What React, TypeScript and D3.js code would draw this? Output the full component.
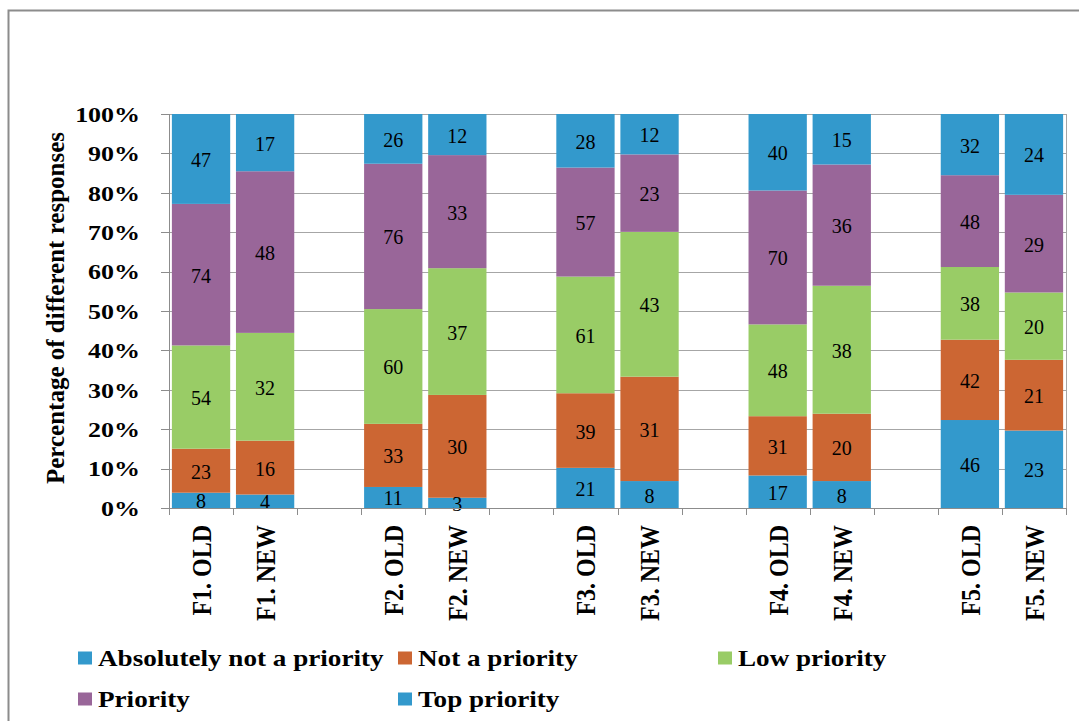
import * as d3 from "d3";
import { useEffect, useRef } from "react";

const categories = ["F1. OLD", "F1. NEW", "F2. OLD", "F2. NEW", "F3. OLD", "F3. NEW", "F4. OLD", "F4. NEW", "F5. OLD", "F5. NEW"];
const seriesNames = ["Absolutely not a priority", "Not a priority", "Low priority", "Priority", "Top priority"];
const absolutelyNot = [8, 4, 11, 3, 21, 8, 17, 8, 46, 23];
const notPriority = [23, 16, 33, 30, 39, 31, 31, 20, 42, 21];
const lowPriority = [54, 32, 60, 37, 61, 43, 48, 38, 38, 20];
const priority = [74, 48, 76, 33, 57, 23, 70, 36, 48, 29];
const topPriority = [47, 17, 26, 12, 28, 12, 40, 15, 32, 24];
const yTicks = [0, 0.1, 0.2, 0.3, 0.4, 0.5, 0.6, 0.7, 0.8, 0.9, 1];

const colors = ["#3399cc", "#cc6633", "#99cc66", "#996699", "#3399cc"];
const FONT = "Liberation Serif, DejaVu Serif, serif";
const SX = 1.18; // the original picture is stretched sideways

export default function App() {
  const svgRef = useRef<SVGSVGElement | null>(null);

  useEffect(() => {
    const width = 1079, height = 721;
    const margin = { top: 114, left: 169, right: 13, bottom: 213 };
    const innerWidth = width - margin.left - margin.right;
    const innerHeight = height - margin.top - margin.bottom;

    // slots with blank spacers between the OLD/NEW pairs
    const slots: string[] = [];
    categories.forEach((c, i) => {
      slots.push(c);
      if (i % 2 === 1 && i < categories.length - 1) slots.push(`gap${i}`);
    });

    const x = d3.scaleBand().domain(slots).range([0, innerWidth]).paddingInner(0.09).paddingOuter(0.045);
    const y = d3.scaleLinear().domain([0, 1]).range([innerHeight, 0]);
    const step = innerWidth / slots.length;

    const values = [absolutelyNot, notPriority, lowPriority, priority, topPriority];
    const rows = categories.map((c, i) => {
      const total = d3.sum(values, v => v[i]);
      const row: any = { cat: c };
      values.forEach((v, k) => (row[seriesNames[k]] = v[i] / total));
      row.raw = values.map(v => v[i]);
      return row;
    });
    const stacked = d3.stack<any>().keys(seriesNames)(rows);

    const svg = d3.select(svgRef.current);
    svg.selectAll("*").remove();
    svg.attr("width", width).attr("height", height);

    svg.append("rect").attr("width", width).attr("height", height).attr("fill", "#fff");
    svg.append("rect")
      .attr("x", 8.5).attr("y", 10.5).attr("width", width + 20).attr("height", height + 20)
      .attr("fill", "none").attr("stroke", "#8c8c8c").attr("stroke-width", 2);

    const g = svg.append("g").attr("transform", `translate(${margin.left},${margin.top})`);

    // gridlines
    g.append("g")
      .selectAll("line")
      .data(yTicks.slice(1))
      .join("line")
      .attr("x1", 0).attr("x2", innerWidth)
      .attr("y1", d => Math.round(y(d)) + 0.5).attr("y2", d => Math.round(y(d)) + 0.5)
      .attr("stroke", "#a6a6a6").attr("stroke-width", 1);

    // bars
    stacked.forEach((layer, k) => {
      g.append("g")
        .attr("fill", colors[k])
        .selectAll("rect")
        .data(layer)
        .join("rect")
        .attr("x", d => x(d.data.cat)!)
        .attr("width", x.bandwidth())
        .attr("y", d => y(d[1]))
        .attr("height", d => y(d[0]) - y(d[1]));
    });

    // data labels
    stacked.forEach((layer, k) => {
      g.append("g")
        .selectAll("text")
        .data(layer)
        .join("text")
        .attr("x", d => x(d.data.cat)! + x.bandwidth() / 2)
        .attr("y", d => (y(d[0]) + y(d[1])) / 2 + 1)
        .attr("dy", "0.35em")
        .attr("text-anchor", "middle")
        .attr("font-family", FONT)
        .attr("font-size", 20)
        .attr("fill", "#000")
        .text(d => d.data.raw[k]);
    });

    // y axis
    g.append("line")
      .attr("x1", 0.5).attr("x2", 0.5).attr("y1", 0).attr("y2", innerHeight)
      .attr("stroke", "#8c8c8c");
    g.append("g")
      .selectAll("line")
      .data(yTicks)
      .join("line")
      .attr("x1", -8).attr("x2", 0)
      .attr("y1", d => Math.round(y(d)) + 0.5).attr("y2", d => Math.round(y(d)) + 0.5)
      .attr("stroke", "#8c8c8c");
    g.append("g")
      .selectAll("text")
      .data(yTicks)
      .join("text")
      .attr("transform", d => `translate(-29,${y(d)}) scale(${SX},1)`)
      .attr("dy", "0.35em")
      .attr("text-anchor", "end")
      .attr("font-family", FONT).attr("font-size", 22).attr("font-weight", "bold")
      .text(d => d3.format(".0%")(d));

    // right axis line
    g.append("line")
      .attr("x1", innerWidth + 0.5).attr("x2", innerWidth + 0.5).attr("y1", 0).attr("y2", innerHeight)
      .attr("stroke", "#a6a6a6");

    // x axis
    g.append("line")
      .attr("x1", 0).attr("x2", innerWidth).attr("y1", innerHeight + 0.5).attr("y2", innerHeight + 0.5)
      .attr("stroke", "#8c8c8c");
    g.append("g")
      .selectAll("line")
      .data(d3.range(slots.length + 1))
      .join("line")
      .attr("x1", i => Math.round(i * step) + 0.5).attr("x2", i => Math.round(i * step) + 0.5)
      .attr("y1", innerHeight).attr("y2", innerHeight + 7)
      .attr("stroke", "#8c8c8c");

    g.append("g")
      .selectAll("text")
      .data(categories)
      .join("text")
      .attr("transform", d => `translate(${x(d)! + x.bandwidth() / 2},${innerHeight + 17}) scale(${SX},1) rotate(-90)`)
      .attr("dy", "0.35em")
      .attr("text-anchor", "end")
      .attr("font-family", FONT).attr("font-size", 24).attr("font-weight", "bold")
      .text(d => d);

    // axis title
    svg.append("text")
      .attr("transform", `translate(55,${margin.top + innerHeight / 2 - 3}) rotate(-90)`)
      .attr("text-anchor", "middle")
      .attr("dy", "0.35em")
      .attr("font-family", FONT).attr("font-size", 25).attr("font-weight", "bold")
      .text("Percentage of different responses");

    // legend
    const legendPos = [[78, 658], [398, 658], [718, 658], [78, 699], [398, 699]];
    const legend = svg.append("g")
      .selectAll("g")
      .data(seriesNames)
      .join("g")
      .attr("transform", (d, i) => `translate(${legendPos[i][0]},${legendPos[i][1]})`);
    legend.append("rect")
      .attr("x", 0).attr("y", -6.5).attr("width", 14).attr("height", 13)
      .attr("fill", (d, i) => colors[i]);
    legend.append("text")
      .attr("transform", `translate(20,0) scale(${SX},1)`)
      .attr("dy", "0.35em")
      .attr("font-family", FONT).attr("font-size", 23).attr("font-weight", "bold")
      .text(d => d);
  }, []);

  return (
    <div style={{ position: "absolute", left: 0, top: 0 }}>
      <svg ref={svgRef} style={{ display: "block" }} />
    </div>
  );
}
